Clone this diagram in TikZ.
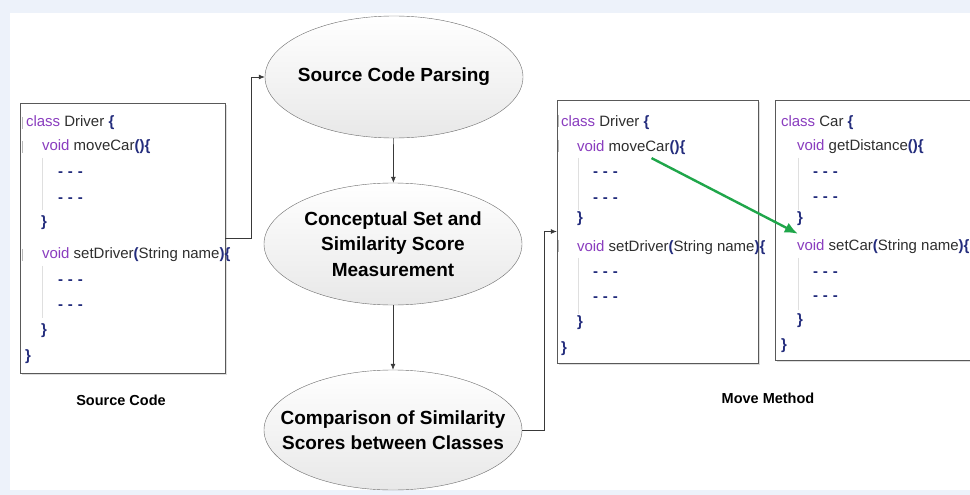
\documentclass[tikz,border=0pt]{standalone}
\usepackage{fontspec}
\setmainfont{Liberation Sans}
\usetikzlibrary{arrows.meta,shapes.geometric,shadows}
\definecolor{keyword}{HTML}{8A3DBF}
\definecolor{brace}{HTML}{232C7C}
\definecolor{ident}{HTML}{2E2E2E}
\definecolor{pagebg}{HTML}{EDF2FA}
\definecolor{movegreen}{HTML}{1FA64A}
\newcommand{\kwd}[1]{\textcolor{keyword}{#1}}
\newcommand{\brc}[1]{\textcolor{brace}{\textbf{#1}}}
\newcommand{\elide}{\brc{-\,\,-\,\,-}}

\begin{document}
\begin{tikzpicture}[
		x=1pt,y=-1pt,
		stage/.style={ellipse,draw=gray!85!black,top color=white,bottom color=gray!18,
			minimum width=258pt,minimum height=122pt,align=center,inner xsep=-60pt,inner ysep=-30pt,
			font=\fontsize{19}{25.5}\selectfont\bfseries},
		codebox/.style={draw=gray!70!black,fill=white,
			drop shadow={shadow xshift=2pt,shadow yshift=-2pt,fill=gray!50,opacity=.5}},
		code/.style={anchor=base west,inner sep=0pt,font=\fontsize{15}{18}\selectfont,text=ident},
		guide/.style={draw=gray!25,thin},
		tick/.style={draw=gray!55,line width=1pt},
		flow/.style={-{Latex[length=6pt,width=5pt]},draw=gray!45!black,line width=0.7pt},
		move/.style={-{Latex[length=13pt,width=11pt]},draw=movegreen,line width=2.4pt},
		caption/.style={font=\fontsize{14.5}{17}\selectfont\bfseries}
	]
		% page
		\fill[pagebg] (0,0) rectangle (970,495);
		\fill[white] (10,13) rectangle (970,490);
		\useasboundingbox (0,0) rectangle (970,495);

		% pipeline
		\node[stage] (parse) at (394,77) {Source Code Parsing};
		\node[stage] (concept) at (393,244) {Conceptual Set and\\Similarity Score\\Measurement};
		\node[stage, minimum height=120pt] (compare) at (393,430) {Comparison of Similarity\\Scores between Classes};

		% code before refactoring
		\node[codebox, minimum width=205pt, minimum height=270pt] (src) at (122.5,238) {};
		\node[code] at ([shift={(6,24)}]src.north west) {\kwd{class} Driver \brc{\{}};
		\node[code] at ([shift={(22,48)}]src.north west) {\kwd{void} moveCar\brc{()\{}};
		\node[code] at ([shift={(38,74)}]src.north west) {\elide};
		\node[code] at ([shift={(38,100)}]src.north west) {\elide};
		\node[code] at ([shift={(21,124)}]src.north west) {\brc{\}}};
		\node[code] at ([shift={(22,156)}]src.north west) {\kwd{void} setDriver\brc{(}String name\brc{)\{}};
		\node[code] at ([shift={(38,182)}]src.north west) {\elide};
		\node[code] at ([shift={(38,207)}]src.north west) {\elide};
		\node[code] at ([shift={(21,232)}]src.north west) {\brc{\}}};
		\node[code] at ([shift={(5,258)}]src.north west) {\brc{\}}};
		\foreach \dy in {14,38,146}
			\draw[tick] ([shift={(3,\dy)}]src.north west) -- +(0,12);
		\draw[guide] ([shift={(22,55)}]src.north west) -- +(0,52);
		\draw[guide] ([shift={(22,163)}]src.north west) -- +(0,52);

		% code after the move
		\node[codebox, minimum width=201pt, minimum height=263pt] (mv) at (657.5,231.5) {};
		\node[code] at ([shift={(4,27)}]mv.north west) {\kwd{class} Driver \brc{\{}};
		\node[code] (mc) at ([shift={(20,52)}]mv.north west) {\kwd{void} moveCar\brc{()\{}};
		\node[code] at ([shift={(36,77)}]mv.north west) {\elide};
		\node[code] at ([shift={(36,103)}]mv.north west) {\elide};
		\node[code] at ([shift={(20,123)}]mv.north west) {\brc{\}}};
		\node[code] at ([shift={(20,152)}]mv.north west) {\kwd{void} setDriver\brc{(}String name\brc{)\{}};
		\node[code] at ([shift={(36,177)}]mv.north west) {\elide};
		\node[code] at ([shift={(36,202)}]mv.north west) {\elide};
		\node[code] at ([shift={(20,227)}]mv.north west) {\brc{\}}};
		\node[code] at ([shift={(4,253)}]mv.north west) {\brc{\}}};
		\foreach \dy in {15,40,140}
			\draw[tick] ([shift={(2,\dy)}]mv.north west) -- +(0,12);
		\draw[guide] ([shift={(21,58)}]mv.north west) -- +(0,52);
		\draw[guide] ([shift={(21,158)}]mv.north west) -- +(0,56);

		\node[codebox, minimum width=200pt, minimum height=260pt] (car) at (875,230) {};
		\node[code] at ([shift={(6,27)}]car.north west) {\kwd{class} Car \brc{\{}};
		\node[code] at ([shift={(22,51)}]car.north west) {\kwd{void} getDistance\brc{()\{}};
		\node[code] at ([shift={(38,77)}]car.north west) {\elide};
		\node[code] at ([shift={(38,102)}]car.north west) {\elide};
		\node[code] at ([shift={(22,123)}]car.north west) {\brc{\}}};
		\node[code] (sc) at ([shift={(22,151)}]car.north west) {\kwd{void} setCar\brc{(}String name\brc{)\{}};
		\node[code] at ([shift={(38,177)}]car.north west) {\elide};
		\node[code] at ([shift={(38,201)}]car.north west) {\elide};
		\node[code] at ([shift={(22,225)}]car.north west) {\brc{\}}};
		\node[code] at ([shift={(6,250)}]car.north west) {\brc{\}}};
		\draw[guide] ([shift={(23,58)}]car.north west) -- +(0,52);
		\draw[guide] ([shift={(23,158)}]car.north west) -- +(0,52);

		\node[caption] (srccap) at (121,400) {Source Code};
		\node[caption] (mvcap) at (768,398) {Move Method};

		% connectors
		\draw[flow] (src.east) -- ++(26,0) |- (parse.west);
		\draw[flow] (parse) -- (concept);
		\draw[flow] (concept) -- (compare);
		\draw[flow] (compare.east) -- ++(22,0) |- (mv.west);
		\draw[move] ([shift={(-34,3)}]mc.south east) -- ([shift={(1,-6)}]sc.north west);
	\end{tikzpicture}
\end{document}
